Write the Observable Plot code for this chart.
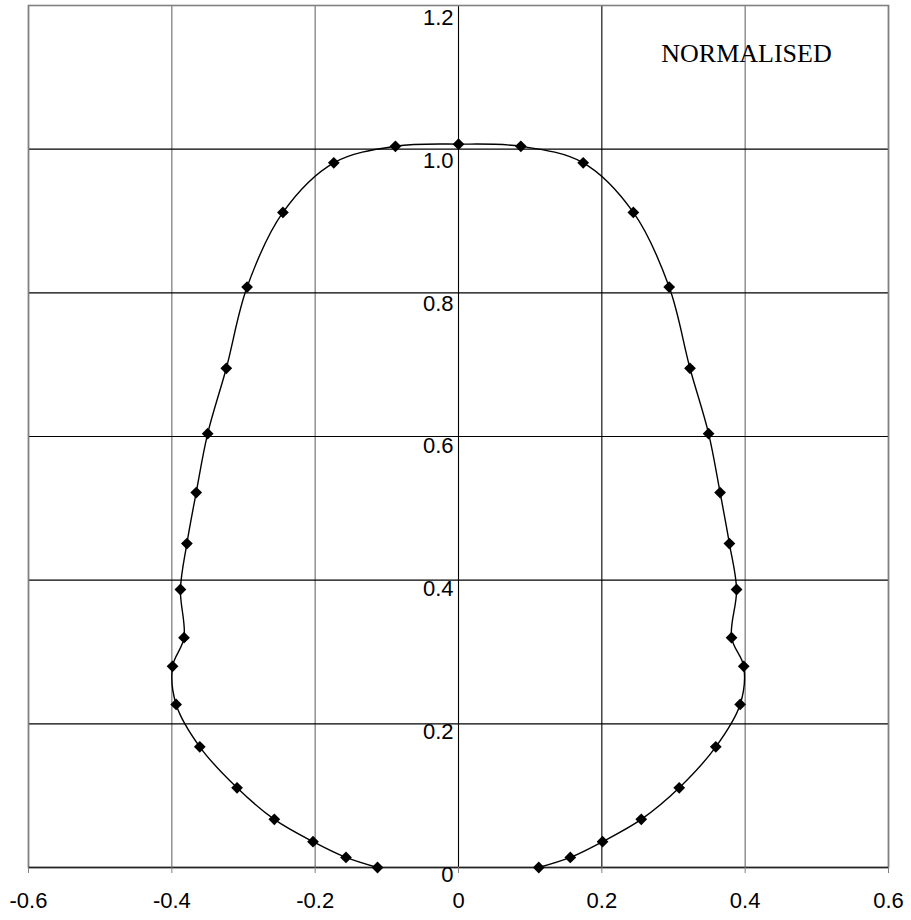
<!DOCTYPE html>
<html>
<head>
<meta charset="utf-8">
<script src="https://cdn.jsdelivr.net/npm/d3@7"></script>
<script src="https://cdn.jsdelivr.net/npm/@observablehq/plot@0.6"></script>
<style>
  html, body { margin: 0; padding: 0; background: #fff; }
  #chart svg { display: block; }
</style>
</head>
<body>
<div id="chart"></div>
<script>
// Profile points (left bottom -> top -> right bottom)
const profileX = [
  -0.113, -0.157, -0.203, -0.257, -0.309, -0.361, -0.394, -0.399, -0.383, -0.388,
  -0.379, -0.366, -0.350, -0.324, -0.295, -0.245, -0.174, -0.088, 0.000,
  0.087, 0.174, 0.244, 0.294, 0.323, 0.349, 0.365, 0.378, 0.388, 0.381,
  0.398, 0.393, 0.359, 0.308, 0.255, 0.201, 0.156, 0.112
];
const profileY = [
  0.000, 0.014, 0.036, 0.067, 0.111, 0.168, 0.227, 0.280, 0.320, 0.387,
  0.451, 0.522, 0.604, 0.695, 0.808, 0.912, 0.981, 1.004, 1.007,
  1.004, 0.981, 0.912, 0.808, 0.695, 0.604, 0.522, 0.451, 0.387, 0.320,
  0.280, 0.227, 0.168, 0.111, 0.067, 0.036, 0.014, 0.000
];
const xTicks = [-0.6, -0.4, -0.2, 0, 0.2, 0.4, 0.6];
const xTickLabels = ["-0.6", "-0.4", "-0.2", "0", "0.2", "0.4", "0.6"];
const yTicks = [0, 0.2, 0.4, 0.6, 0.8, 1.0, 1.2];
const yTickLabels = ["0", "0.2", "0.4", "0.6", "0.8", "1.0", "1.2"];
const annotation = "NORMALISED";

const points = profileX.map((x, i) => ({x, y: profileY[i]}));
const darkV = new Set([0, 0.2]);

const chart = Plot.plot({
  width: 911,
  height: 920,
  marginLeft: 28,
  marginRight: 23,
  marginTop: 5,
  marginBottom: 53,
  style: {fontFamily: "'Liberation Sans', Arial, sans-serif", fontSize: "22px", background: "#fff"},
  x: {type: "linear", domain: [-0.6, 0.6], axis: null, label: null},
  y: {type: "linear", domain: [0, 1.2], axis: null, label: null},
  marks: [
    Plot.ruleX(xTicks.filter(v => !darkV.has(v)), {x: d => d, stroke: "#808080", strokeWidth: 1.3}),
    Plot.ruleX(xTicks.filter(v => darkV.has(v)), {x: d => d, stroke: "#000", strokeWidth: 1.1}),
    Plot.ruleY(yTicks.filter(v => v > 0 && v < 1.2), {y: d => d, stroke: "#000", strokeWidth: 1.1}),
    Plot.frame({stroke: "#808080", strokeWidth: 1.6}),
    Plot.ruleY([0], {stroke: "#222", strokeWidth: 1.4}),
    Plot.axisX({
      ticks: xTicks,
      tickFormat: (d, i) => xTickLabels[i],
      tickSize: 6,
      tickPadding: 19,
      label: null,
      stroke: "#808080",
      fill: "#000",
      fontSize: 22
    }),
    ...yTicks.map((v, i) => Plot.text([v], {
      x: () => 0, y: d => d, text: () => yTickLabels[i],
      textAnchor: "end", dx: -5, dy: 7 + 4.6 * v,
      fontSize: 22, fill: "#000"
    })),
    Plot.line(points, {x: "x", y: "y", curve: "catmull-rom", stroke: "#000", strokeWidth: 1.4}),
    Plot.dot(points, {x: "x", y: "y", symbol: "diamond2", r: 5.3, fill: "#000", stroke: "none"}),
    Plot.text([annotation], {
      frameAnchor: "top-right", text: d => d, dx: -142, dy: 38,
      textAnchor: "middle", fontFamily: "'Liberation Serif', 'Times New Roman', serif",
      fontSize: 26, fill: "#000"
    })
  ]
});
document.getElementById("chart").appendChild(chart);
</script>
</body>
</html>
